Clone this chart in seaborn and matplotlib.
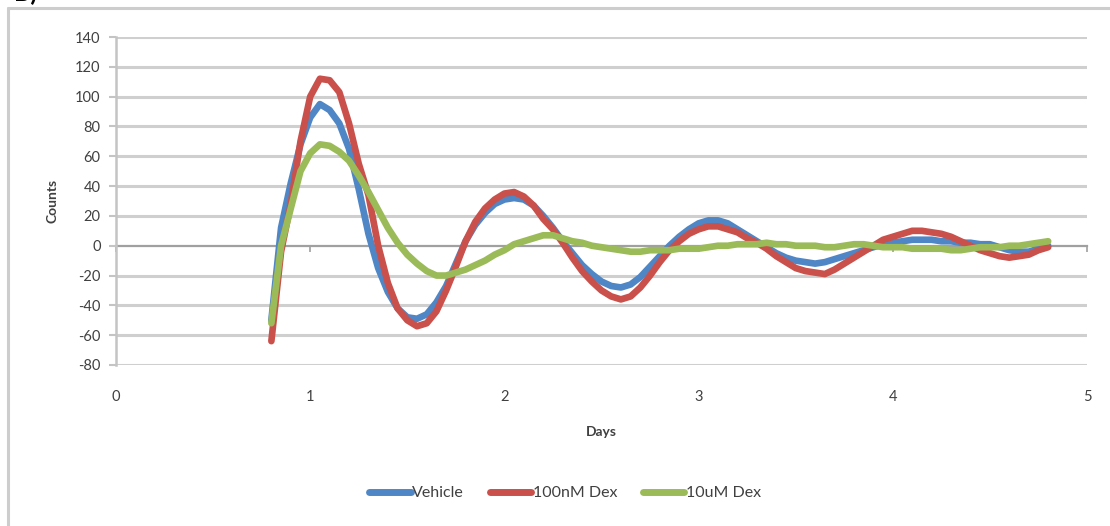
import numpy as np
import pandas as pd
import matplotlib
matplotlib.use("Agg")
import matplotlib.pyplot as plt
from matplotlib.lines import Line2D
import seaborn as sns

# ---- data ----
days = [round(0.80 + 0.05 * i, 2) for i in range(81)]

vehicle = [-50, 12, 42, 68, 86, 95, 91, 82, 65, 38,
           8, -15, -31, -42, -48, -49, -46, -38, -27, -12,
           3, 14, 22, 28, 31, 32, 31, 27, 20, 12,
           3, -5, -13, -19, -24, -27, -28, -26, -21, -14,
           -7, 0, 6, 11, 15, 17, 17, 15, 11, 7,
           3, -1, -5, -8, -10, -11, -12, -11, -9, -7,
           -5, -3, -1, 1, 2, 3, 4, 4, 4, 3,
           3, 2, 2, 1, 1, -1, -3, -4, -4, -2, 0]

dex100n = [-64, -4, 28, 70, 100, 112, 111, 103, 82, 55,
           34, 0, -25, -42, -50, -54, -52, -44, -30, -14,
           3, 16, 25, 31, 35, 36, 33, 27, 18, 11,
           2, -8, -17, -24, -30, -34, -36, -34, -28, -20,
           -11, -3, 3, 8, 11, 13, 13, 11, 9, 5,
           2, -2, -7, -11, -15, -17, -18, -19, -16, -12,
           -8, -4, 0, 4, 6, 8, 10, 10, 9, 8,
           6, 3, 0, -3, -5, -7, -8, -7, -6, -3, -1]

dex10u = [-52, 0, 25, 50, 62, 68, 67, 63, 57, 47,
          36, 24, 12, 2, -6, -12, -17, -20, -20, -18,
          -16, -13, -10, -6, -3, 1, 3, 5, 7, 7,
          5, 3, 2, 0, -1, -2, -3, -4, -4, -3,
          -3, -3, -2, -2, -2, -1, 0, 0, 1, 1,
          1, 2, 1, 1, 0, 0, 0, -1, -1, 0,
          1, 1, 0, -1, -1, -1, -2, -2, -2, -2,
          -3, -3, -2, -1, -1, -1, 0, 0, 1, 2, 3]

series_names = ["Vehicle", "100nM Dex", "10uM Dex"]
colors = ["#4F86C6", "#C9504B", "#9BBB59"]
y_ticks = list(range(-80, 141, 20))
x_ticks = [0, 1, 2, 3, 4, 5]

df = pd.DataFrame({
    "Days": days * 3,
    "Counts": vehicle + dex100n + dex10u,
    "Series": [series_names[0]] * len(days) + [series_names[1]] * len(days) + [series_names[2]] * len(days),
})

# ---- figure ----
sns.set_theme(style="white")
plt.rcParams["font.family"] = ["Lato", "DejaVu Sans"]
plt.rcParams["axes.unicode_minus"] = False
txt_color = "#404040"

fig = plt.figure(figsize=(11.10, 5.26), dpi=100)
ax = fig.add_axes([116 / 1110, 1 - 365 / 526, (1087 - 116) / 1110, (365 - 37) / 526])

sns.lineplot(data=df, x="Days", y="Counts", hue="Series", hue_order=series_names,
             palette=colors, lw=4.8, ax=ax, sort=False, estimator=None,
             solid_capstyle="round", solid_joinstyle="round")

ax.set_xlim(0, 5)
ax.set_ylim(-80, 140)
ax.set_yticks(y_ticks)
ax.set_xticks(x_ticks)
ax.grid(False)
for yv in y_ticks:
    if yv != 0:
        ax.axhline(yv, color="#CFCFCF", lw=2.2, zorder=0)

# x-axis line at zero with tick marks, labels low (Excel style)
for s in ["top", "right"]:
    ax.spines[s].set_visible(False)
ax.spines["bottom"].set_position(("data", 0))
ax.spines["bottom"].set_color("#A0A0A0")
ax.spines["bottom"].set_linewidth(1.6)
ax.spines["bottom"].set_zorder(0.5)
ax.spines["left"].set_color("#C4C4C4")
ax.spines["left"].set_linewidth(1.8)
ax.tick_params(axis="x", direction="out", length=4, width=1.2, color="#A0A0A0",
               labelbottom=False, bottom=True)
ax.tick_params(axis="y", direction="out", length=5, width=1.5, color="#C4C4C4",
               labelsize=10.5, labelcolor=txt_color, pad=6, left=True)

sec = ax.secondary_xaxis("bottom")
sec.set_xticks(x_ticks)
sec.spines["bottom"].set_visible(False)
sec.tick_params(axis="x", length=0, labelsize=10.5, labelcolor=txt_color, pad=18)

ax.set_xlabel("")
ax.set_ylabel("Counts", fontsize=10, fontweight="bold", color=txt_color, labelpad=12)
sec.set_xlabel("Days", fontsize=10, fontweight="bold", color=txt_color, labelpad=16)

# legend
ax.get_legend().remove()
handles = [Line2D([0], [0], color=c, lw=5, solid_capstyle="round") for c in colors]
leg = fig.legend(handles, series_names, loc="center", bbox_to_anchor=(565 / 1110, 1 - 493 / 526),
                 ncol=3, frameon=False, fontsize=11.5, handlelength=2.6, handletextpad=0.1,
                 columnspacing=1.6, labelcolor=txt_color)

# outer chart frame (top and left edges visible)
fig.add_artist(Line2D([8 / 1110, 8 / 1110], [0, 1 - 8 / 526], transform=fig.transFigure,
                      color="#CDCDCD", lw=2.2))
fig.add_artist(Line2D([8 / 1110, 1], [1 - 8 / 526, 1 - 8 / 526], transform=fig.transFigure,
                      color="#CDCDCD", lw=2.2))
fig.text(14 / 1110, 1 - 1 / 526, "B)", fontsize=18, color="black", va="baseline",
         fontweight="bold")

fig.savefig("out.png", dpi=100)
